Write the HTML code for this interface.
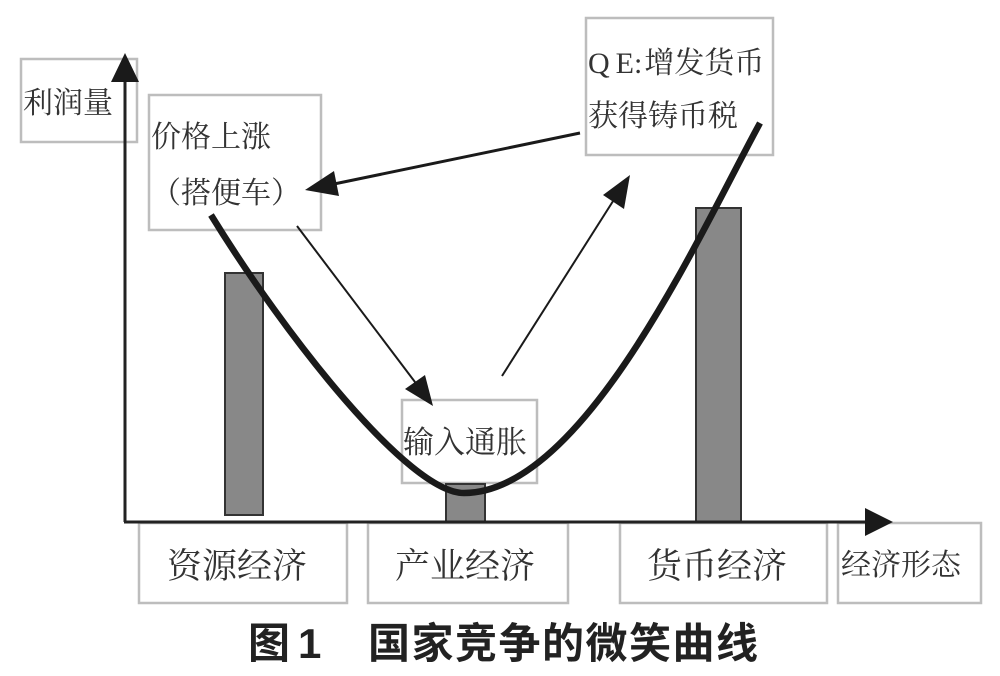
<!DOCTYPE html>
<html>
<head>
<meta charset="utf-8">
<style>
  html,body{margin:0;padding:0;background:#fff;}
  body{width:1000px;height:676px;overflow:hidden;}
  svg{display:block;}
  .s{font-family:"Liberation Serif","Noto Serif CJK SC",serif;fill:#333;}
  .c{font-family:"Liberation Sans","Noto Sans CJK SC",sans-serif;font-weight:bold;fill:#222;}
</style>
</head>
<body>
<svg width="1000" height="676" viewBox="0 0 1000 676" xmlns="http://www.w3.org/2000/svg">
  <!-- boxes -->
  <g fill="none" stroke="#bdbdbd" stroke-width="2.5">
    <rect x="21" y="59" width="116" height="83"/>
    <rect x="149" y="95" width="172" height="135"/>
    <rect x="586" y="18" width="187" height="137"/>
    <rect x="402" y="400" width="135" height="83"/>
    <rect x="139" y="523" width="208" height="80"/>
    <rect x="368" y="523" width="200" height="80"/>
    <rect x="620" y="523" width="207" height="80"/>
    <rect x="838" y="523" width="143" height="80"/>
  </g>

  <!-- bars -->
  <g fill="#888" stroke="#333" stroke-width="2">
    <rect x="225" y="273" width="38" height="242"/>
    <rect x="446" y="484" width="39" height="38"/>
    <rect x="696" y="208" width="45" height="314"/>
  </g>

  <!-- axes -->
  <g stroke="#222" stroke-width="3" fill="none">
    <line x1="125" y1="78" x2="125" y2="522"/>
    <line x1="124" y1="522" x2="870" y2="522"/>
  </g>
  <polygon points="125,53 111,82 139,82" fill="#1a1a1a"/>
  <polygon points="893,522 865,508 865,536" fill="#1a1a1a"/>

  <!-- smile curve -->
  <path d="M211,215 C286,337 409,493 464,493 C584,493 700,233 760,123" fill="none" stroke="#1a1a1a" stroke-width="6.5" stroke-linecap="butt"/>

  <!-- arrows -->
  <line x1="580" y1="133" x2="334" y2="184" stroke="#1a1a1a" stroke-width="3"/>
  <polygon points="305,190 339,196 334,171" fill="#1a1a1a"/>

  <line x1="297" y1="226" x2="418" y2="386" stroke="#1a1a1a" stroke-width="2"/>
  <polygon points="433,406 425,375 405,389" fill="#1a1a1a"/>

  <line x1="502" y1="376" x2="615" y2="198" stroke="#1a1a1a" stroke-width="2"/>
  <polygon points="630,175 603,195 624,209" fill="#1a1a1a"/>

  <!-- labels -->
  <text class="s" x="23" y="113" font-size="30">利润量</text>
  <text class="s" x="151" y="147" font-size="30">价格上涨</text>
  <text class="s" x="151" y="203" font-size="30">（搭便车）</text>
  <text class="s" x="588" y="73" font-size="30">Q<tspan dx="6">E:</tspan><tspan dx="2">增发货币</tspan></text>
  <text class="s" x="588" y="126" font-size="30">获得铸币税</text>
  <text class="s" x="403" y="453" font-size="31">输入通胀</text>
  <text class="s" x="167" y="578" font-size="35">资源经济</text>
  <text class="s" x="395" y="578" font-size="35">产业经济</text>
  <text class="s" x="647" y="578" font-size="35">货币经济</text>
  <text class="s" x="841" y="575" font-size="30">经济形态</text>

  <!-- caption -->
  <text class="c" x="248" y="658" font-size="42">图</text>
  <text class="c" x="298" y="658" font-size="42">1</text>
  <text class="c" x="368" y="658" font-size="42" letter-spacing="1.5">国家竞争的微笑曲线</text>
</svg>
</body>
</html>
